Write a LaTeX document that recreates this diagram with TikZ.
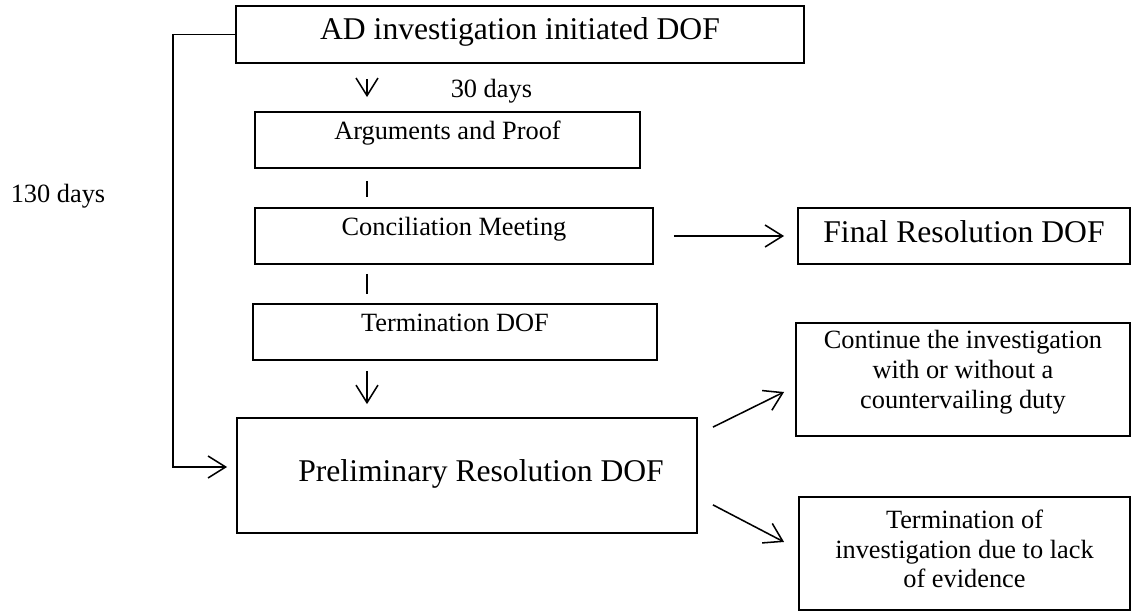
\documentclass[tikz,border=0pt]{standalone}
\usepackage{fontspec}
\setmainfont{Liberation Serif}
\usetikzlibrary{arrows.meta}

\begin{document}
\begin{tikzpicture}[
    >={Straight Barb[length=8pt,width=10pt]},
    box/.style={draw, line width=0.85pt, inner sep=0pt, align=center, font=\fontsize{12}{13.5}\selectfont},
    bigbox/.style={box, font=\fontsize{14.4}{17}\selectfont},
    link/.style={line width=0.7pt}
  ]
  \useasboundingbox (0,0) rectangle (18.096,9.808);

  % Main column
  \node[bigbox, minimum width=9.088cm, text height=15.5pt, text depth=10.5pt] (ad) at (8.32,9.256) {AD investigation initiated DOF};
  \node[box, minimum width=6.16cm, text height=12.75pt, text depth=12.75pt] (args) at (7.16,7.568) {Arguments and Proof};
  \node[box, minimum width=6.368cm, text height=12.75pt, text depth=12.75pt] (conc) at (7.264,6.032) {Conciliation Meeting};
  \node[box, minimum width=6.464cm, text height=12.75pt, text depth=12.75pt] (term) at (7.28,4.496) {Termination DOF};
  \node[bigbox, minimum width=7.36cm, text height=29.1pt, text depth=23.2pt] (prelim) at (7.472,2.2) {\hspace{0.45cm}Preliminary Resolution DOF};

  % Outcomes
  \node[bigbox, minimum width=5.312cm, text height=15.9pt, text depth=9.6pt] (final) at (15.424,6.032) {Final Resolution DOF};
  \node[box, minimum width=5.344cm, text height=38.7pt, text depth=12.7pt] (cont) at (15.408,3.736) {Continue the investigation\\with or without a\\countervailing duty};
  \node[box, minimum width=5.296cm, text height=41.4pt, text depth=10.1pt] (lack) at (15.432,0.952) {Termination of\\investigation due to lack\\of evidence};

  % Time limits
  \node[anchor=base west, font=\fontsize{12}{14}\selectfont] (days30) at (7.088,8.24) {30 days};
  \node[anchor=base west, font=\fontsize{12}{14}\selectfont] (days130) at (0.048,6.56) {130 days};

  % Column connectors
  \coordinate (spine) at (5.872,0);
  \draw[link, ->, shorten <=0.24cm, shorten >=0.224cm] (spine |- ad.south) -- (spine |- args.north);
  \draw[link, shorten <=0.192cm, shorten >=0.16cm] (spine |- args.south) -- (spine |- conc.north);
  \draw[link, shorten <=0.144cm, shorten >=0.144cm] (spine |- conc.south) -- (spine |- term.north);
  \draw[link, ->, shorten <=0.16cm, shorten >=0.208cm] (spine |- term.south) -- (spine |- prelim.north);

  % Loop from the start
  \draw[link, ->, shorten >=0.144cm] (ad.west) -- ++(-0.992,0) |- ([yshift=0.136cm]prelim.west);

  % Branches
  \draw[link, ->, shorten <=0.32cm, shorten >=0.208cm] (conc.east) -- (final.west);
  \draw[link, ->] ([xshift=0.24cm,yshift=-0.16cm]prelim.north east) -- ([xshift=-0.176cm,yshift=-0.2cm]cont.west);
  \draw[link, ->] ([xshift=0.24cm,yshift=0.464cm]prelim.south east) -- ([xshift=-0.224cm,yshift=0.184cm]lack.west);
\end{tikzpicture}
\end{document}
